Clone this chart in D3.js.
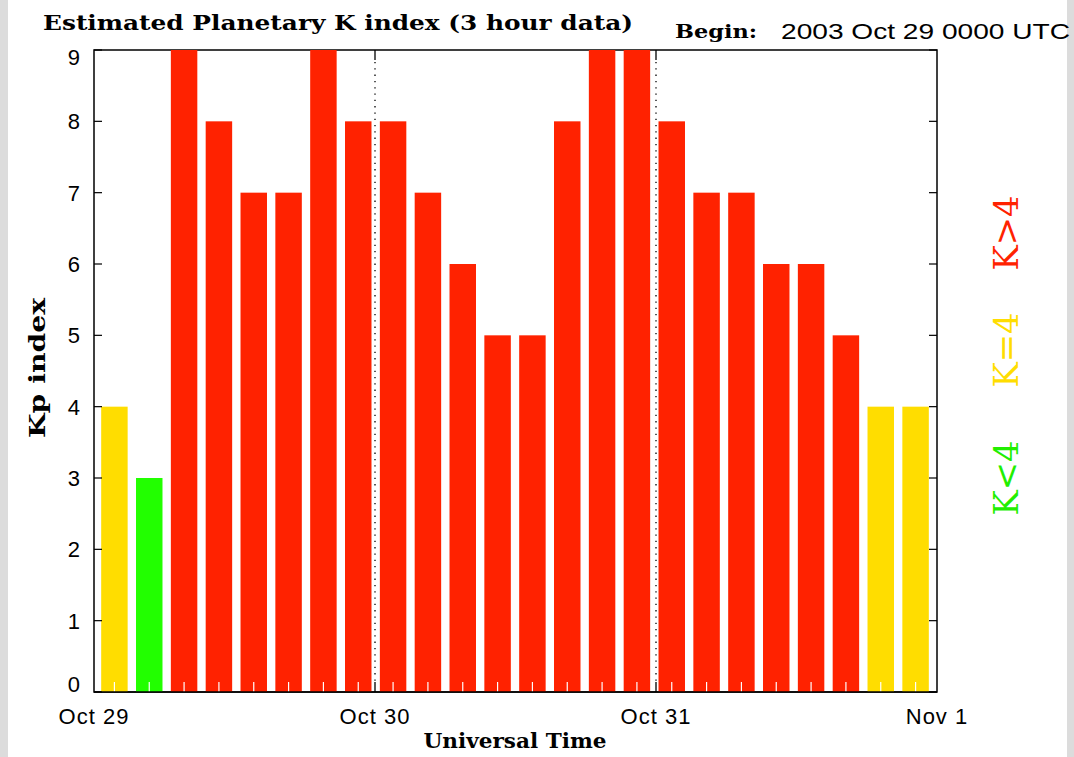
<!DOCTYPE html>
<html>
<head>
<meta charset="utf-8">
<script src="https://cdn.jsdelivr.net/npm/d3@7"></script>
<style>
  body { margin: 0; background: #dcdcdc; }
  svg { display: block; }
</style>
</head>
<body>
<svg width="1074" height="757"></svg>
<script>
// Kp values, 3-hour bins starting 2003 Oct 29 0000 UTC
const kpValues = [4, 3, 9, 8, 7, 7, 9, 8,
                  8, 7, 6, 5, 5, 8, 9, 9,
                  8, 7, 7, 6, 6, 5, 4, 4];
const dayLabels = ["Oct 29", "Oct 30", "Oct 31", "Nov 1"];
const yTicks = [0, 1, 2, 3, 4, 5, 6, 7, 8, 9];
const legendItems = [
    { text: "K>4", color: "#ff2200", cy: 233 },
    { text: "K=4", color: "#ffdd00", cy: 350 },
    { text: "K<4", color: "#22ee00", cy: 478 }
];

const svg = d3.select("svg");
const serif = "'DejaVu Serif', 'Liberation Serif', serif";
const sans = "'Liberation Sans', 'DejaVu Sans', sans-serif";

// white page area
svg.append("rect").attr("x", 8).attr("y", 0).attr("width", 1059).attr("height", 757).attr("fill", "#fff");

const plotLeft = 94, plotRight = 937, plotTop = 50, plotBottom = 692;
const x = d3.scaleLinear().domain([0, 72]).range([plotLeft, plotRight]);   // hours, for day ticks
const xb = d3.scaleBand().domain(d3.range(kpValues.length)).range([97, 933])
    .paddingInner(0.24).paddingOuter(0.12);                                  // bars
const y = d3.scaleLinear().domain([0, 9]).range([plotBottom, plotTop]);

function kColor(k) {
    if (k > 4) return "#ff2200";
    if (k === 4) return "#ffdd00";
    return "#22ff00";
}

// frame
svg.append("rect")
    .attr("x", plotLeft).attr("y", plotTop)
    .attr("width", plotRight - plotLeft).attr("height", plotBottom - plotTop)
    .attr("fill", "none").attr("stroke", "#000").attr("stroke-width", 1.5);

// day separators (dotted) and ticks
[24, 48].forEach(h => {
    svg.append("line")
        .attr("x1", x(h)).attr("x2", x(h))
        .attr("y1", plotTop + 12).attr("y2", plotBottom - 10)
        .attr("stroke", "#000").attr("stroke-width", 1.3)
        .attr("stroke-dasharray", "1.3,5");
    svg.append("line").attr("x1", x(h)).attr("x2", x(h))
        .attr("y1", plotTop).attr("y2", plotTop + 10).attr("stroke", "#000").attr("stroke-width", 1.3);
});

// bars
svg.append("g").selectAll("rect")
    .data(kpValues)
    .enter().append("rect")
    .attr("x", (d, i) => xb(i))
    .attr("width", xb.bandwidth())
    .attr("y", d => y(d))
    .attr("height", d => y(0) - y(d))
    .attr("fill", d => kColor(d));

// white minor ticks at bar centres
svg.append("g").selectAll("line")
    .data(kpValues)
    .enter().append("line")
    .attr("x1", (d, i) => xb(i) + xb.bandwidth() / 2)
    .attr("x2", (d, i) => xb(i) + xb.bandwidth() / 2)
    .attr("y1", plotBottom - 10).attr("y2", plotBottom)
    .attr("stroke", "#fff").attr("stroke-width", 1.2);

// bottom axis line + day ticks on top of bars
svg.append("line").attr("x1", plotLeft).attr("x2", plotRight).attr("y1", plotBottom).attr("y2", plotBottom)
    .attr("stroke", "#000").attr("stroke-width", 1.5);
[24, 48].forEach(h => {
    svg.append("line").attr("x1", x(h)).attr("x2", x(h))
        .attr("y1", plotBottom - 10).attr("y2", plotBottom).attr("stroke", "#000").attr("stroke-width", 1.3);
});

// y ticks left and right
yTicks.forEach(t => {
    svg.append("line").attr("x1", plotLeft).attr("x2", plotLeft + 8).attr("y1", y(t)).attr("y2", y(t))
        .attr("stroke", "#000").attr("stroke-width", 1.2);
    svg.append("line").attr("x1", plotRight - 8).attr("x2", plotRight).attr("y1", y(t)).attr("y2", y(t))
        .attr("stroke", "#000").attr("stroke-width", 1.2);
});

// y tick labels (end labels nudged inside, as in the original)
svg.append("g").selectAll("text")
    .data(yTicks)
    .enter().append("text")
    .attr("x", 80)
    .attr("y", d => y(d) + 8 + (d === 0 ? -8 : d === 9 ? 7 : 0))
    .attr("text-anchor", "end")
    .attr("font-family", sans).attr("font-size", 22)
    .text(d => d);

// x labels
svg.append("g").selectAll("text")
    .data(dayLabels)
    .enter().append("text")
    .attr("x", (d, i) => x(i * 24))
    .attr("y", 724)
    .attr("text-anchor", "middle")
    .attr("font-family", sans).attr("font-size", 22)
    .attr("letter-spacing", 1)
    .text(d => d);

// titles
svg.append("text").attr("x", 43).attr("y", 30)
    .attr("font-family", serif).attr("font-weight", "bold").attr("font-size", 21)
    .attr("textLength", 590).attr("lengthAdjust", "spacingAndGlyphs")
    .text("Estimated Planetary K index (3 hour data)");
svg.append("text").attr("x", 675).attr("y", 38)
    .attr("font-family", serif).attr("font-weight", "bold").attr("font-size", 19)
    .attr("textLength", 82).attr("lengthAdjust", "spacingAndGlyphs")
    .text("Begin:");
svg.append("text").attr("x", 781).attr("y", 39)
    .attr("font-family", sans).attr("font-size", 22)
    .attr("textLength", 289).attr("lengthAdjust", "spacingAndGlyphs")
    .text("2003 Oct 29 0000 UTC");

svg.append("text").attr("x", 515).attr("y", 748)
    .attr("text-anchor", "middle")
    .attr("font-family", serif).attr("font-weight", "bold").attr("font-size", 20)
    .attr("textLength", 183).attr("lengthAdjust", "spacingAndGlyphs")
    .text("Universal Time");

svg.append("text")
    .attr("transform", "translate(45,368) rotate(-90)")
    .attr("text-anchor", "middle")
    .attr("font-family", serif).attr("font-weight", "bold").attr("font-size", 23)
    .attr("textLength", 140).attr("lengthAdjust", "spacingAndGlyphs")
    .text("Kp index");

// legend
svg.append("g").selectAll("text")
    .data(legendItems)
    .enter().append("text")
    .attr("transform", d => `translate(1018,${d.cy}) rotate(-90)`)
    .attr("text-anchor", "middle")
    .attr("font-family", serif).attr("font-size", 34)
    .attr("textLength", 75).attr("lengthAdjust", "spacingAndGlyphs")
    .attr("fill", d => d.color)
    .text(d => d.text);
</script>
</body>
</html>
